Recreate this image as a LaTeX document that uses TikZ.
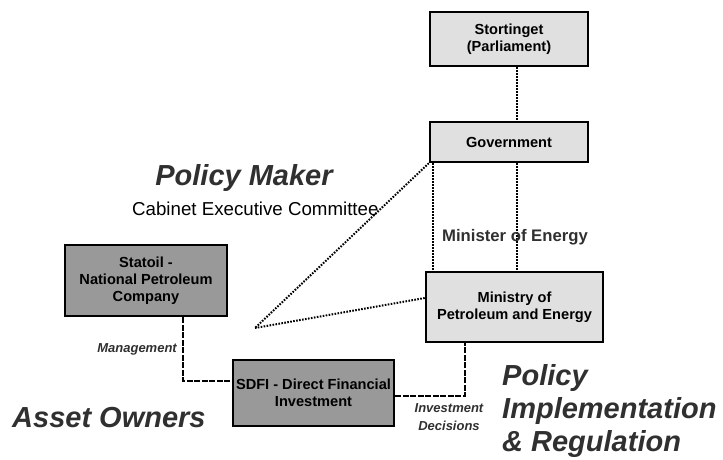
\documentclass[tikz,border=0pt]{standalone}
\usepackage{fontspec}
\setmainfont{Liberation Sans}
\usetikzlibrary{calc}
\definecolor{boxlight}{HTML}{E0E0E0}
\definecolor{boxdark}{HTML}{999999}
\definecolor{headtext}{HTML}{303030}

\begin{document}
\begin{tikzpicture}[x=1pt,y=-1pt,
  orgbox/.style={draw=black, line width=2.5pt, rectangle, inner sep=0pt, align=center,
    font=\fontsize{14.6}{17}\selectfont\bfseries, text=black},
  lightbox/.style={orgbox, fill=boxlight},
  darkbox/.style={orgbox, fill=boxdark},
  dotline/.style={line width=2pt, dash pattern=on 1.6pt off 1.4pt},
  dashline/.style={line width=2pt, dash pattern=on 6pt off 1.5pt},
  headline/.style={font=\fontsize{29}{33}\selectfont\bfseries\itshape, text=headtext, inner sep=0pt},
  smalllabel/.style={font=\fontsize{13}{18}\selectfont\bfseries\itshape, text=headtext, inner sep=0pt, align=center},
  plainlabel/.style={inner sep=0pt, text=black},
]
\useasboundingbox (0,0) rectangle (723,460);

% organisation boxes
\node[lightbox, minimum width=158pt, minimum height=54pt] (stor) at (509,39) {Stortinget\\(Parliament)};
\node[lightbox, minimum width=158pt, minimum height=40pt] (gov) at (509,142) {Government};
\node[lightbox, minimum width=177pt, minimum height=70pt] (min) at (514.5,307) {Ministry of\\Petroleum and Energy};
\node[darkbox, minimum width=162pt, minimum height=71pt] (stat) at (146,280.5) {Statoil -\\National Petroleum\\Company};
\node[darkbox, minimum width=161pt, minimum height=66pt] (sdfi) at (313.5,393) {SDFI - Direct Financial\\Investment};

% reporting lines
\draw[dotline] ([xshift=8pt]stor.south) -- ([xshift=8pt]gov.north);
\draw[dotline] ([xshift=4pt]gov.south west) -- ([xshift=4pt]gov.south west |- min.north);
\draw[dotline] ([xshift=8pt]gov.south) -- ([xshift=8pt]gov.south |- min.north);

% cabinet apex
\coordinate (apex) at (255,328);
\draw[dotline] (gov.south west) -- (apex);
\draw[dotline] ([yshift=9pt]min.west) -- (apex);

% ownership lines
\draw[dashline] ([xshift=37pt]stat.south) |- ([yshift=12pt]sdfi.west);
\draw[dashline] ([yshift=-3pt]sdfi.east) -| ([xshift=-49.5pt]min.south);

% labels
\node[headline, anchor=base] (pm) at (244,185) {Policy Maker};
\node[plainlabel, anchor=base west, font=\fontsize{18.7}{22}\selectfont] (cab) at (132,215) {Cabinet Executive Committee};
\node[plainlabel, anchor=base, font=\fontsize{16.7}{20}\selectfont\bfseries, text=headtext] (moe) at (515,241) {Minister of Energy};
\node[smalllabel, anchor=base east] (mgmt) at (177,352) {Management};
\node[smalllabel] (invd) at (449,417) {Investment\\Decisions};
\node[headline, anchor=base west] (ao) at (12,427) {Asset Owners};
\node[headline, anchor=north west, align=left] (pir) at (502,364) {Policy\\Implementation\\\& Regulation};
\end{tikzpicture}
\end{document}
